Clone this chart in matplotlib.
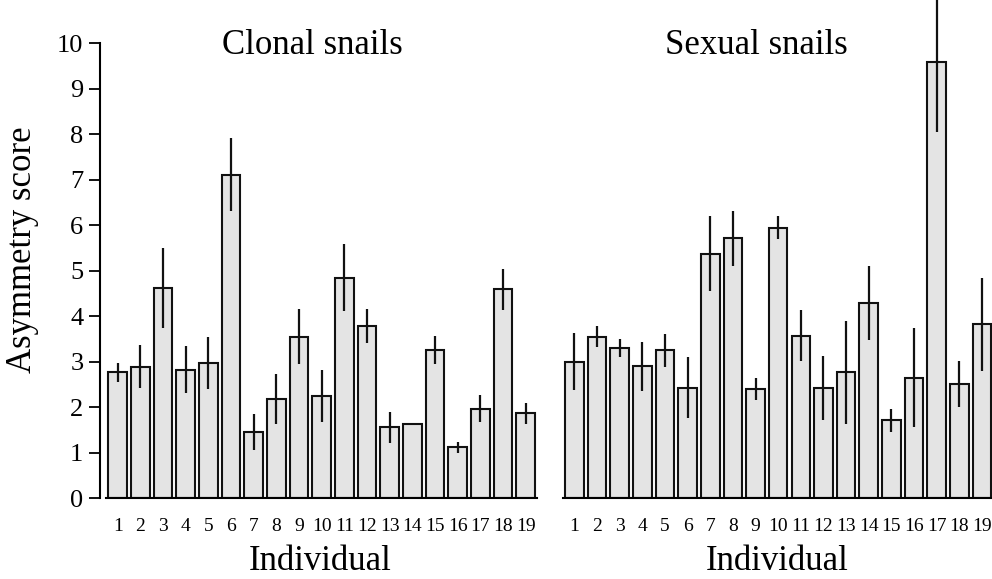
import matplotlib
matplotlib.use("Agg")
import matplotlib.pyplot as plt
import numpy as np

individuals = [str(i) for i in range(1, 20)]
clonal_mean = [2.77, 2.89, 4.62, 2.83, 2.98, 7.11, 1.46, 2.18, 3.55, 2.25,
               4.85, 3.78, 1.56, 1.63, 3.26, 1.12, 1.97, 4.59, 1.87]
clonal_err = [0.21, 0.47, 0.88, 0.51, 0.57, 0.80, 0.39, 0.55, 0.60, 0.57,
              0.74, 0.37, 0.34, 0.00, 0.31, 0.12, 0.29, 0.45, 0.23]
sexual_mean = [3.00, 3.55, 3.30, 2.90, 3.25, 2.43, 5.38, 5.71, 2.40, 5.95,
               3.57, 2.42, 2.77, 4.29, 1.71, 2.65, 9.58, 2.51, 3.82]
sexual_err = [0.63, 0.23, 0.20, 0.54, 0.37, 0.67, 0.82, 0.61, 0.24, 0.25,
              0.56, 0.70, 1.13, 0.82, 0.26, 1.09, 1.52, 0.50, 1.03]
yticks = list(range(0, 11))

plt.rcParams['font.family'] = ['Liberation Serif', 'DejaVu Serif']

W, H = 992, 579
fig = plt.figure(figsize=(W / 100, H / 100), dpi=100)

y0 = (H - 498.3) / H
yh = (498.3 - 43.3) / H
ax1 = fig.add_axes([100 / W, y0, 436.9 / W, yh])
ax2 = fig.add_axes([563 / W, y0, 429 / W, yh])

x = np.arange(1, 20)
bar_kw = dict(width=0.82, color='#e4e4e4', edgecolor='#111111', linewidth=1.5, zorder=2)
err_kw = dict(fmt='none', ecolor='#111111', elinewidth=1.6, capsize=0, zorder=3)

ax1.bar(x, clonal_mean, **bar_kw)
eb1 = ax1.errorbar(x, clonal_mean, yerr=clonal_err, **err_kw)
ax2.bar(x, sexual_mean, **bar_kw)
eb2 = ax2.errorbar(x, sexual_mean, yerr=sexual_err, **err_kw)
for eb in (eb1, eb2):
    for c in eb.lines[2]:
        c.set_clip_on(False)

ax1.set_xlim(0.22, 19.5)
ax2.set_xlim(0.5, 19.44)
for ax in (ax1, ax2):
    ax.set_ylim(0, 10)
    ax.set_xticks(x)
    ax.set_xticklabels(individuals, fontsize=14)
    ax.tick_params(axis='x', length=0, pad=14)
    ax.spines['top'].set_visible(False)
    ax.spines['right'].set_visible(False)
    ax.spines['bottom'].set_linewidth(1.5)
    ax.spines['bottom'].set_bounds(0.5, 19.5)
    ax.set_facecolor('none')

ax1.spines['left'].set_linewidth(1.5)
ax1.set_yticks(yticks)
ax1.set_yticklabels([str(v) for v in yticks], fontsize=19)
ax1.tick_params(axis='y', length=8, width=1.3, pad=4, direction='out')

ax2.spines['left'].set_visible(False)
ax2.set_yticks([])

fig.text(312 / W, 1 - 45 / H, 'Clonal snails', fontsize=25, ha='center', va='center')
fig.text(756 / W, 1 - 45 / H, 'Sexual snails', fontsize=25, ha='center', va='center')
fig.text(320 / W, 1 - 561 / H, 'Individual', fontsize=25, ha='center', va='center')
fig.text(777 / W, 1 - 561 / H, 'Individual', fontsize=25, ha='center', va='center')
fig.text(23 / W, 1 - 250 / H, 'Asymmetry score', fontsize=25, ha='center', va='center',
         rotation=90)

fig.savefig('out.png', dpi=100)
